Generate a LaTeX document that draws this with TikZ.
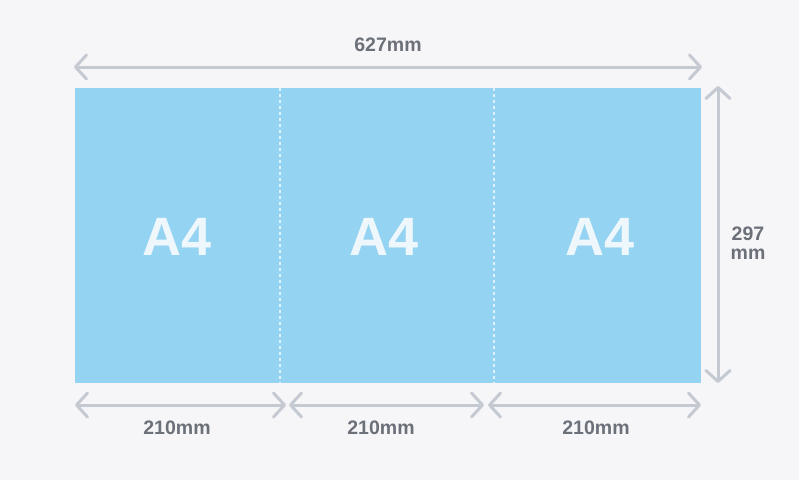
\documentclass[tikz,border=0pt]{standalone}
\usepackage{fontspec}
\setmainfont{Liberation Sans}
\usetikzlibrary{arrows.meta}
\definecolor{bg}{HTML}{F6F6F8}
\definecolor{paper}{HTML}{94D3F1}
\definecolor{atext}{HTML}{EEF7FC}
\definecolor{dimline}{HTML}{C5C9D2}
\definecolor{dimtext}{HTML}{6B7079}
\tikzset{
  panel/.style={fill=paper,draw=none,minimum width=#1,minimum height=295pt,inner sep=0pt,anchor=north west},
  bigtext/.style={font=\fontsize{54}{54}\selectfont\bfseries,text=atext},
  dimarrow/.style={draw=dimline,line width=3pt,line cap=round,
     {Straight Barb[length=11pt,width=24pt,line width=3pt,round]}-{Straight Barb[length=11pt,width=24pt,line width=3pt,round]}},
  dimlabel/.style={font=\fontsize{19.5}{21}\selectfont\bfseries,text=dimtext,align=center},
  fold/.style={draw=white!70!paper,line width=1.2pt,dash pattern=on 3pt off 3pt}
}
\begin{document}
\begin{tikzpicture}[x=1pt,y=-1pt]
\fill[bg] (0,0) rectangle (799,480);
\useasboundingbox (0,0) rectangle (799,480);
\node[panel=205pt] (p1) at (75,88) {};
\node[panel=214pt] (p2) at (280,88) {};
\node[panel=207pt] (p3) at (494,88) {};
\node[bigtext] (a1) at (177,237) {A4};
\node[bigtext] (a2) at (384,237) {A4};
\node[bigtext] (a3) at (600,237) {A4};
\draw[fold] (p2.north west) -- (p2.south west);
\draw[fold] (p3.north west) -- (p3.south west);
% top dimension
\coordinate (t1) at (74,67);
\coordinate (t2) at (702,67);
\draw[dimarrow] (t1) -- (t2);
\node[dimlabel] (tl) at (388,45) {627mm};
% right dimension
\coordinate (r1) at (718,86);
\coordinate (r2) at (718,383);
\draw[dimarrow] (r1) -- (r2);
\node[dimlabel] (rl) at (748,243) {297\\[-2pt]mm};
% bottom dimensions
\coordinate (b1) at (75,405);
\coordinate (b2) at (286,405);
\coordinate (b3) at (289,405);
\coordinate (b4) at (484,405);
\coordinate (b5) at (488,405);
\coordinate (b6) at (701,405);
\draw[dimarrow] (b1) -- (b2);
\draw[dimarrow] (b3) -- (b4);
\draw[dimarrow] (b5) -- (b6);
\node[dimlabel] (bl1) at (177,428) {210mm};
\node[dimlabel] (bl2) at (381,428) {210mm};
\node[dimlabel] (bl3) at (596,428) {210mm};
\end{tikzpicture}
\end{document}
